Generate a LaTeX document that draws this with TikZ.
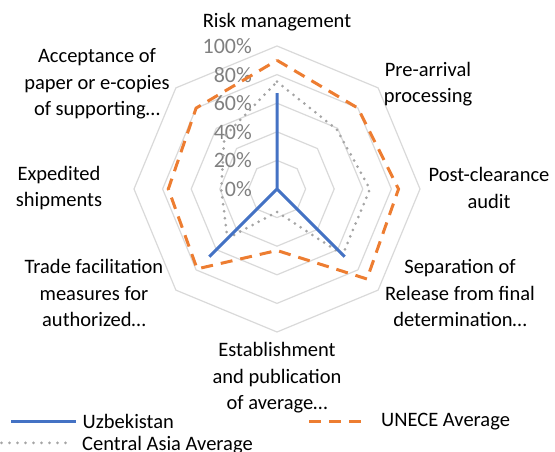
\documentclass[tikz,border=0pt]{standalone}
\usepackage{fontspec}
\setmainfont{Carlito}
\definecolor{uzb}{HTML}{4472C4}
\definecolor{unece}{HTML}{ED7D31}
\definecolor{casia}{HTML}{A5A5A5}
\definecolor{gridc}{HTML}{D9D9D9}
\definecolor{tickc}{HTML}{808080}
\begin{document}
\begin{tikzpicture}[x=1pt,y=1pt,
  ring/.style={draw=gridc, line width=1.2pt, line join=miter},
  ticklab/.style={text=tickc, font=\fontsize{22}{25}\selectfont, anchor=east, inner sep=0pt},
  axlab/.style={font=\fontsize{20.5}{26.5}\selectfont, align=center, inner sep=0pt},
  leglab/.style={font=\fontsize{20.5}{24}\selectfont, anchor=west, inner sep=0pt},
  uzbline/.style={draw=uzb, line width=3pt, line join=miter},
  unline/.style={draw=unece, line width=3pt, dash pattern=on 12pt off 8pt},
  caline/.style={draw=casia, line width=3pt, line cap=round, dash pattern=on 0pt off 7pt},
]
\useasboundingbox (0,0) rectangle (555,452);
\coordinate (C) at (277,263);
\begin{scope}[shift={(C)}]
  % grid rings
  \foreach \k in {1,...,5}{
    \draw[ring] (90:\k*28.6) -- (45:\k*28.6) -- (0:\k*28.6) -- (-45:\k*28.6)
      -- (-90:\k*28.6) -- (-135:\k*28.6) -- (180:\k*28.6) -- (135:\k*28.6) -- cycle;
  }
  % tick labels
  \foreach \k/\t in {0/0,1/20,2/40,3/60,4/80,5/100}{
    \node[ticklab] (tick\t) at (-25,\k*28.6) {\t\%};
  }
  % data points
  \foreach \v [count=\i] in {67,0,0,67,0,67,0,0}
    \coordinate (u\i) at ({90-45*(\i-1)}:{\v*1.43});
  \foreach \v [count=\i] in {90,80,85,89,43,79,76,80}
    \coordinate (e\i) at ({90-45*(\i-1)}:{\v*1.43});
  \foreach \v [count=\i] in {75,59,65,65,16,49,39,52}
    \coordinate (a\i) at ({90-45*(\i-1)}:{\v*1.43});
  % series
  \draw[caline] (a1) -- (a2) -- (a3) -- (a4) -- (a5) -- (a6) -- (a7) -- (a8) -- cycle;
  \draw[unline] (e1) -- (e2) -- (e3) -- (e4) -- (e5) -- (e6) -- (e7) -- (e8) -- cycle;
  \draw[uzbline] (u1) -- (u2) -- (u3) -- (u4) -- (u5) -- (u6) -- (u7) -- (u8) -- cycle;
\end{scope}
% axis labels
\node[axlab] (l1) at (277,430) {Risk management};
\node[axlab] (l2) at (428,368) {Pre-arrival\\processing};
\node[axlab] (l3) at (489,264) {Post-clearance\\audit};
\node[axlab] (l4) at (460,159) {Separation of\\Release from final\\determination…};
\node[axlab] (l5) at (277,74) {Establishment\\and publication\\of average…};
\node[axlab] (l6) at (94,159) {Trade facilitation\\measures for\\authorized…};
\node[axlab] (l7) at (59,264) {Expedited\\shipments};
\node[axlab] (l8) at (97,368) {Acceptance of\\paper or e-copies\\of supporting…};
% legend
\coordinate (lu1) at (11,30.3); \coordinate (lu2) at (76,30.3);
\draw[uzbline] (lu1) -- (lu2);
\node[leglab] (legu) at (82.5,30.3) {Uzbekistan};
\coordinate (le1) at (309,30.3); \coordinate (le2) at (365,30.3);
\draw[unline] (le1) -- (le2);
\node[leglab] (lege) at (381,30.3) {UNECE Average};
\coordinate (la1) at (1.5,9); \coordinate (la2) at (73,9);
\draw[caline, dash pattern=on 0pt off 8pt] (la1) -- (la2);
\node[leglab] (lega) at (82,7) {Central Asia Average};
\end{tikzpicture}
\end{document}
